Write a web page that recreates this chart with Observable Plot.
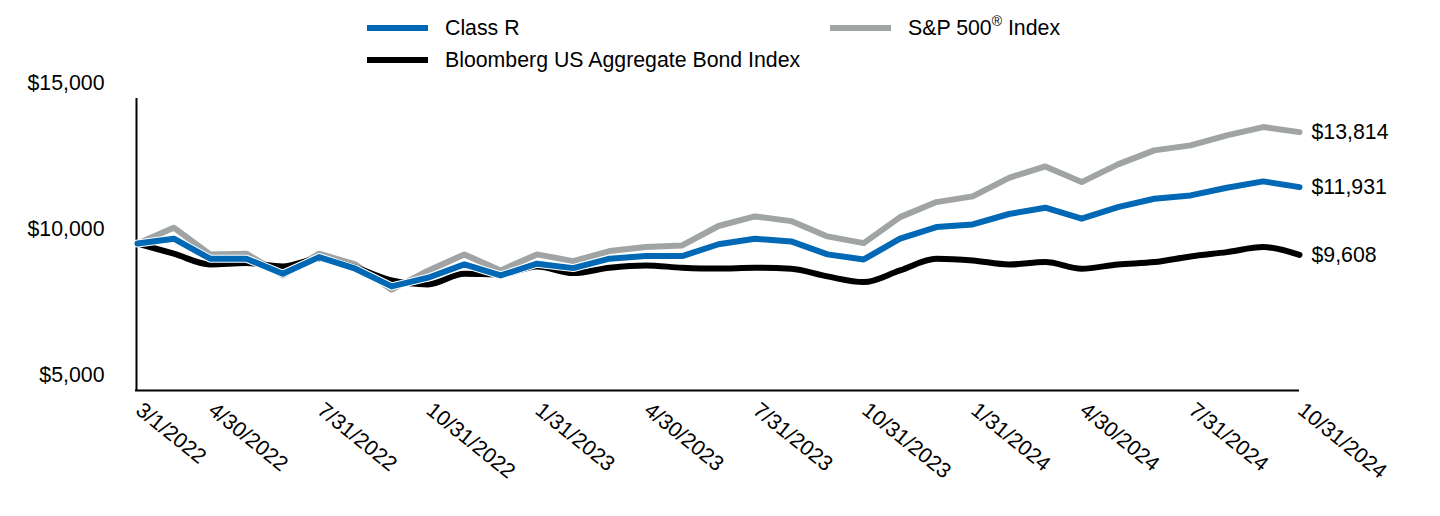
<!DOCTYPE html>
<html><head><meta charset="utf-8">
<script src="https://cdn.jsdelivr.net/npm/d3@7"></script>
<script src="https://cdn.jsdelivr.net/npm/@observablehq/plot@0.6"></script>
<style>
body{margin:0;background:#fff;font-family:Arial,"Liberation Sans",sans-serif;}
#wrap{position:relative;width:1440px;height:516px;overflow:hidden;}
#chart{position:absolute;left:0;top:0;}
#legend{position:absolute;left:0;top:0;width:1440px;height:80px;}
.item{position:absolute;display:flex;align-items:center;font-size:21.3px;line-height:24px;color:#000;white-space:nowrap;}
.sw{width:61px;height:6px;margin-right:17px;}
sup{font-size:14px;line-height:0;position:relative;top:-1px;}
</style></head><body>
<div id="wrap"><div id="chart"></div><div id="legend"></div></div>
<script>
const dates = ["3/1/2022","3/31/2022","4/30/2022","5/31/2022","6/30/2022","7/31/2022","8/31/2022","9/30/2022","10/31/2022","11/30/2022","12/31/2022",
"1/31/2023","2/28/2023","3/31/2023","4/30/2023","5/31/2023","6/30/2023","7/31/2023","8/31/2023","9/30/2023","10/31/2023","11/30/2023","12/31/2023",
"1/31/2024","2/29/2024","3/31/2024","4/30/2024","5/31/2024","6/30/2024","7/31/2024","8/31/2024","9/30/2024","10/31/2024"];
const tickDates = ["3/1/2022","4/30/2022","7/31/2022","10/31/2022","1/31/2023","4/30/2023","7/31/2023","10/31/2023","1/31/2024","4/30/2024","7/31/2024","10/31/2024"];
const yTicks = [5000, 10000, 15000];
const classR = [10000,10164,9479,9479,8966,9534,9137,8531,8829,9284,8907,9308,9157,9479,9568,9568,9975,10164,10072,9627,9455,10164,10562,10654,11010,11226,10849,11247,11534,11647,11911,12127,11931];
const sp500 = [10000,10541,9627,9651,8907,9651,9284,8418,9070,9627,9079,9627,9397,9740,9877,9935,10600,10928,10767,10243,10014,10904,11418,11613,12250,12641,12103,12709,13189,13360,13702,13987,13814];
const bond = [10000,9651,9284,9329,9216,9479,9171,8736,8599,8966,8942,9216,8986,9171,9250,9171,9140,9171,9137,8873,8678,9079,9479,9421,9280,9363,9137,9284,9363,9558,9705,9877,9608];
const seriesNames = ["Class R", "S&P 500® Index", "Bloomberg US Aggregate Bond Index"];
const seriesColors = ["#0068b4", "#a0a4a4", "#000000"];

const rows = (name, vals) => dates.map((d, i) => ({date: d, value: vals[i], name}));
const rR = rows(seriesNames[0], classR), rS = rows(seriesNames[1], sp500), rB = rows(seriesNames[2], bond);
const lastRows = [rS.at(-1), rR.at(-1), rB.at(-1)];
const fmt = v => "$" + d3.format(",")(v);
const FS = 21.3;

const chart = Plot.plot({
  width: 1440, height: 516,
  marginLeft: 137, marginRight: 141, marginTop: 97, marginBottom: 127,
  style: {fontFamily: "Arial, 'Liberation Sans', sans-serif", fontSize: FS + "px", color: "#000", background: "transparent"},
  x: {type: "point", domain: dates, padding: 0, round: false, axis: null},
  y: {domain: [5000, 15000], axis: null},
  marks: [
    Plot.ruleX([dates[0]], {stroke: "#000", strokeWidth: 2, dx: -1, insetBottom: -2, insetTop: 1}),
    Plot.ruleY([5000], {stroke: "#000", strokeWidth: 2, dy: 1, insetLeft: -2}),
    Plot.axisY({ticks: yTicks, tickSize: 0, tickPadding: 33, dy: -14, tickFormat: fmt, label: null, fontSize: FS}),
    Plot.text(tickDates, {x: d => d, frameAnchor: "bottom", dy: 23, dx: -3, rotate: 39, textAnchor: "start", lineAnchor: "bottom", fontSize: FS}),
    Plot.line(rS, {x: "date", y: "value", stroke: seriesColors[1], strokeWidth: 6}),
    Plot.line(rB, {x: "date", y: "value", stroke: seriesColors[2], strokeWidth: 6, curve: "monotone-x"}),
    Plot.line(rR, {x: "date", y: "value", stroke: "#fff", strokeWidth: 8}),
    Plot.line(rR, {x: "date", y: "value", stroke: seriesColors[0], strokeWidth: 6}),
    Plot.text(lastRows, {x: "date", y: "value", text: d => fmt(d.value), dx: 12, textAnchor: "start", fontSize: FS})
  ]
});
document.getElementById("chart").append(chart);

const legend = document.getElementById("legend");
const items = [
  {i: 0, left: 367, top: 16},
  {i: 1, left: 830, top: 16},
  {i: 2, left: 367, top: 48}
];
for (const it of items) {
  const div = document.createElement("div");
  div.className = "item";
  div.style.left = it.left + "px";
  div.style.top = it.top + "px";
  const sw = document.createElement("span");
  sw.className = "sw";
  sw.style.background = seriesColors[it.i];
  div.append(sw);
  const label = document.createElement("span");
  const name = seriesNames[it.i];
  if (name.includes("®")) {
    const parts = name.split("®");
    label.append(parts[0]);
    const sup = document.createElement("sup"); sup.textContent = "®";
    label.append(sup, parts[1]);
  } else label.textContent = name;
  div.append(label);
  legend.append(div);
}
</script>
</body></html>
